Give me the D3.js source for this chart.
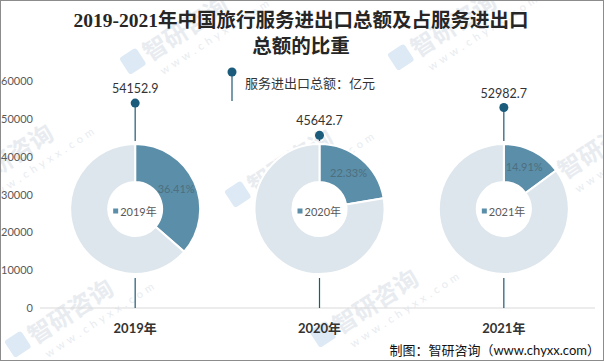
<!DOCTYPE html>
<html lang="zh">

<head>
    <meta charset="UTF-8">
    <title>2019-2021年中国旅行服务进出口总额及占比</title>
    <script src="https://d3js.org/d3.v7.min.js"></script>
    <style>
        body { margin: 0; background: #fff; }
        svg { display: block; font-family: Lato, "Noto Sans CJK SC", sans-serif; }
    </style>
</head>

<body>
    <svg id="svg" width="604" height="361"></svg>
</body>
<script>
    // data
    const years = ["2019年", "2020年", "2021年"];
    const totals = [54152.9, 45642.7, 52982.7];   // 服务进出口总额，亿元
    const shares = [36.41, 22.33, 14.91];         // 旅行服务占比，%
    const yTicks = [0, 10000, 20000, 30000, 40000, 50000, 60000];

    const W = 604, H = 361;
    const dark = "#5b8ea8", light = "#dde6ec", stemColor = "#1d5a74";

    const svg = d3.select("#svg");

    // watermark layer
    const marks = [[150, 62], [418, 58], [255, 195], [35, 345], [340, 335], [565, 180], [-25, 190]];
    const wm = svg.append("g");
    marks.forEach(([mx, my]) => {
        const g = wm.append("g").attr("transform", `translate(${mx},${my}) rotate(-33)`);
        g.append("rect").attr("x", -24).attr("y", -20).attr("width", 20).attr("height", 20)
            .attr("rx", 3).attr("fill", "#dde9f4");
        g.append("text").attr("font-size", 24).attr("fill", "#e8ecf0")
            .attr("font-family", "Noto Sans CJK SC").attr("font-weight", 700)
            .text("智研咨询");
        g.append("text").attr("y", 18).attr("x", 4).attr("font-size", 11).attr("fill", "#e8ecf0")
            .attr("letter-spacing", 4).text("www.chyxx.com");
    });

    // border
    svg.append("rect").attr("x", 0.5).attr("y", 0.5).attr("width", W - 1).attr("height", H - 1)
        .attr("fill", "none").attr("stroke", "#8c8c8c");

    // title
    const title = svg.append("text").attr("text-anchor", "middle")
        .attr("font-family", "'Liberation Serif', 'Noto Sans CJK SC', serif")
        .attr("font-size", 19.5).attr("font-weight", 700).attr("fill", "#262626");
    title.append("tspan").attr("x", 301).attr("y", 27).text("2019-2021年中国旅行服务进出口总额及占服务进出口");
    title.append("tspan").attr("x", 301).attr("y", 53).text("总额的比重");

    const x = d3.scaleBand().domain(years).range([43, 596]);
    const y = d3.scaleLinear().domain([0, 60000]).range([308, 81]);

    // y axis
    const yAxis = svg.append("g").attr("transform", "translate(33,0)")
        .call(d3.axisLeft(y).tickValues(yTicks).tickSize(0).tickPadding(0).tickFormat(d3.format("d")));
    yAxis.select(".domain").remove();
    yAxis.selectAll("text").attr("font-size", 11).attr("fill", "#595959")
        .attr("font-family", "Lato, sans-serif");

    // baseline
    svg.append("line").attr("x1", 40).attr("x2", 595).attr("y1", y(0)).attr("y2", y(0))
        .attr("stroke", "#d9d9d9");

    // x labels
    svg.append("g").selectAll("text").data(years).join("text")
        .attr("x", d => x(d) + x.bandwidth() / 2).attr("y", 333)
        .attr("text-anchor", "middle").attr("font-size", 13).attr("font-weight", 700)
        .attr("fill", "#333").text(d => d);

    const cy = 209, R = 65, r0 = 27;
    const pie = d3.pie().sort(null).value(d => d);
    const arc = d3.arc().innerRadius(r0).outerRadius(R);
    const labelArc = d3.arc().innerRadius(r0 + 16).outerRadius(R - 18);

    years.forEach((yr, i) => {
        const cx = x(yr) + x.bandwidth() / 2;
        const g = svg.append("g");

        // stem above and below the donut
        g.append("line").attr("x1", cx).attr("x2", cx).attr("y1", y(totals[i])).attr("y2", cy - R - 3)
            .attr("stroke", stemColor).attr("stroke-width", 1.2);
        g.append("line").attr("x1", cx).attr("x2", cx).attr("y1", cy + R + 4).attr("y2", y(0))
            .attr("stroke", stemColor).attr("stroke-width", 1.2);
        g.append("circle").attr("cx", cx).attr("cy", y(totals[i])).attr("r", 4.5).attr("fill", "#1b5b7b");
        g.append("text").attr("x", cx).attr("y", y(totals[i]) - 10).attr("text-anchor", "middle")
            .attr("font-size", 12.5).attr("fill", "#333").text(d3.format(".1f")(totals[i]));

        // donut
        const slices = pie([shares[i], 100 - shares[i]]);
        const dg = g.append("g").attr("transform", `translate(${cx},${cy})`);
        dg.selectAll("path").data(slices).join("path")
            .attr("d", arc).attr("fill", (d, j) => j === 0 ? dark : light)
            .attr("stroke", "#fff").attr("stroke-width", 2);

        const c = labelArc.centroid(slices[0]);
        dg.append("text").attr("x", c[0]).attr("y", c[1] - 2).attr("text-anchor", "middle")
            .attr("dominant-baseline", "central").attr("font-size", 11).attr("fill", "#4d6f80")
            .text(shares[i].toFixed(2) + "%");

        // centre legend
        dg.append("rect").attr("x", -22).attr("y", -0.5).attr("width", 5).attr("height", 5).attr("fill", dark);
        dg.append("text").attr("x", -15).attr("y", 2).attr("dominant-baseline", "central")
            .attr("font-size", 11).attr("fill", "#595959").text(yr);
    });

    // legend
    const lg = svg.append("g");
    lg.append("line").attr("x1", 232).attr("x2", 232).attr("y1", 72).attr("y2", 101)
        .attr("stroke", stemColor).attr("stroke-width", 1.2);
    lg.append("circle").attr("cx", 232).attr("cy", 72).attr("r", 4.5).attr("fill", "#1b5b7b");
    lg.append("text").attr("x", 245).attr("y", 83).attr("dominant-baseline", "central")
        .attr("font-size", 13).attr("fill", "#333").text("服务进出口总额：亿元");

    // source
    svg.append("text").attr("x", 600).attr("y", 350).attr("text-anchor", "end")
        .attr("dominant-baseline", "central")
        .attr("font-size", 13).attr("fill", "#111").text("制图：智研咨询（www.chyxx.com）");
</script>

</html>
